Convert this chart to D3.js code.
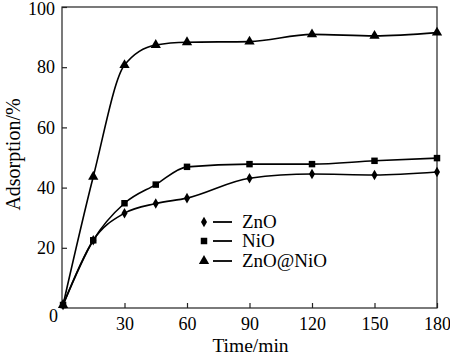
<!DOCTYPE html>
<html><head><meta charset="utf-8">
<script src="https://cdn.jsdelivr.net/npm/d3@7/dist/d3.min.js"></script>
<style>body{margin:0;background:#fff}svg{display:block}text{font-family:"Liberation Serif","Times New Roman",serif;fill:#000}</style>
</head><body>
<script>
const times = [0.5, 15, 30, 45, 60, 90, 120, 150, 180];
const znoValues = [1, 22.5, 31.5, 34.7, 36.5, 43.1, 44.5, 44.2, 45.2];
const nioValues = [1, 22.5, 34.8, 41, 46.9, 47.8, 47.8, 48.9, 49.8];
const znoNioValues = [1, 43.6, 80.7, 87.4, 88.3, 88.5, 90.9, 90.4, 91.5];
const seriesNames = ["ZnO", "NiO", "ZnO@NiO"];
const xTicks = [30, 60, 90, 120, 150, 180];
const yTicks = [20, 40, 60, 80, 100];

const W = 450, H = 355;
const m = {l: 62, r: 13, t: 7, b: 47};
const svg = d3.select("body").append("svg").attr("width", W).attr("height", H);
const x = d3.scaleLinear().domain([0, 180]).range([m.l, W - m.r]);
const y = d3.scaleLinear().domain([0, 100]).range([H - m.b, m.t]);

// frame
svg.append("rect").attr("x", x(0)).attr("y", y(100)).attr("width", x(180) - x(0)).attr("height", y(0) - y(100))
  .attr("fill", "none").attr("stroke", "#222").attr("stroke-width", 1.2);

const xAxis = d3.axisBottom(x).tickValues(xTicks).tickSizeInner(-5).tickSizeOuter(0).tickPadding(9);
const gx = svg.append("g").attr("transform", `translate(0,${y(0)})`).call(xAxis);
const yAxis = d3.axisLeft(y).tickValues(yTicks).tickSizeInner(-5).tickSizeOuter(0).tickPadding(7);
const gy = svg.append("g").attr("transform", `translate(${x(0)},0)`).call(yAxis);
[gx, gy].forEach(g => {
  g.select(".domain").remove();
  g.selectAll("line").attr("stroke", "#222").attr("stroke-width", 1.2);
  g.selectAll("text").style("font-size", "18px").attr("fill", "#000");
});
gx.selectAll("text").attr("dy", "0.71em");
gy.selectAll("text").filter(d => d === 100).attr("dy", "0.42em");
svg.append("text").attr("x", x(0) - 4).attr("y", y(0) + 14).attr("text-anchor", "end").style("font-size", "18px").text("0");

svg.append("text").attr("x", (x(0) + x(180)) / 2 + 1).attr("y", H - 3).attr("text-anchor", "middle").style("font-size", "19.5px").text("Time/min");
svg.append("text").attr("transform", `translate(20,${(y(0) + y(100)) / 2 - 3}) rotate(-90)`).attr("text-anchor", "middle").style("font-size", "20px").text("Adsorption/%");

const all = [znoValues, nioValues, znoNioValues];
const shapes = [d3.symbolDiamond, d3.symbolSquare, d3.symbolTriangle];
const sizes = [32, 42, 46];
const line = d3.line().x(d => x(d[0])).y(d => y(d[1])).curve(d3.curveMonotoneX);
all.forEach((vals, i) => {
  const pts = times.map((t, j) => [t, vals[j]]);
  svg.append("path").attr("d", line(pts)).attr("fill", "none").attr("stroke", "#000").attr("stroke-width", 1.6);
  svg.selectAll(null).data(pts).enter().append("path")
    .attr("d", d3.symbol().type(shapes[i]).size(sizes[i]))
    .attr("transform", d => `translate(${x(d[0])},${y(d[1])})`).attr("fill", "#000");
});

// legend
const legY = [222, 241, 261];
seriesNames.forEach((n, i) => {
  svg.append("path").attr("d", d3.symbol().type(shapes[i]).size(sizes[i])).attr("transform", `translate(204,${legY[i]})`).attr("fill", "#000");
  svg.append("line").attr("x1", 213).attr("x2", 232).attr("y1", legY[i]).attr("y2", legY[i]).attr("stroke", "#000").attr("stroke-width", 1.8);
  svg.append("text").attr("x", 242).attr("y", legY[i] + 6).style("font-size", "19px").text(n);
});
</script>
</body></html>
